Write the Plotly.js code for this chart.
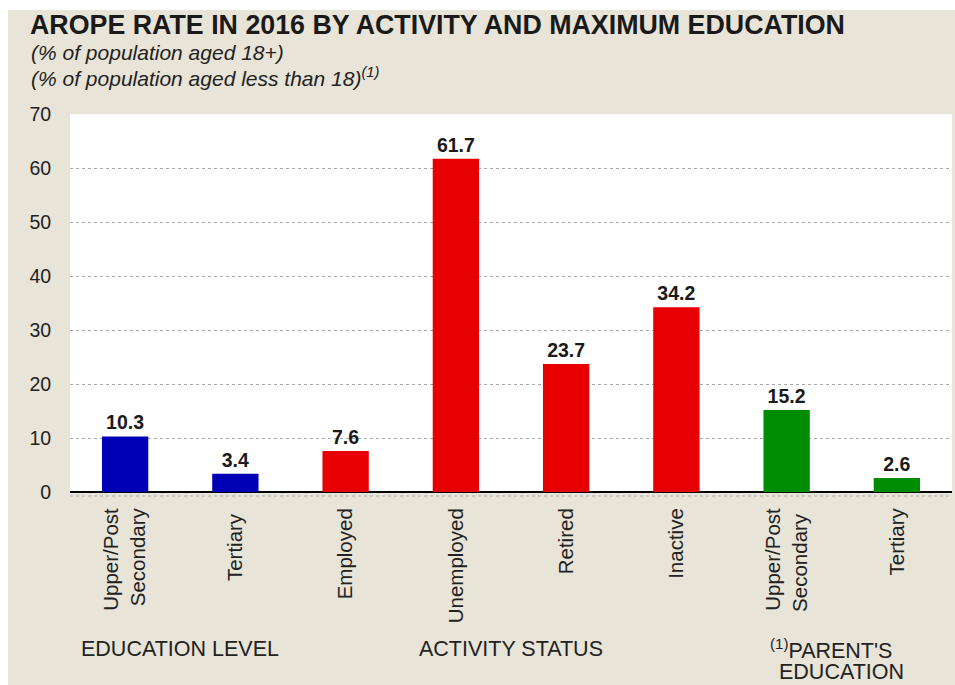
<!DOCTYPE html>
<html><head><meta charset="utf-8">
<script src="https://cdn.plot.ly/plotly-3.0.1.min.js"></script>
<style>
html,body{margin:0;padding:0;background:#ffffff;}
#chart{position:absolute;left:8px;top:10px;width:947px;height:675px;}
</style></head>
<body><div id="chart"></div>
<script>
const categories = ["Upper/Post<br>Secondary", "Tertiary ", "Employed", "Unemployed", "Retired", "Inactive", "Upper/Post<br>Secondary ", "Tertiary"];
const values = [10.3, 3.4, 7.6, 61.7, 23.7, 34.2, 15.2, 2.6];
const groupLabels = ["EDUCATION LEVEL", "ACTIVITY STATUS", "<sup>(1)</sup>PARENT'S", "EDUCATION"];
const groupPositions = [0.5, 3.5, 6.4, 6.5];
const groupRows = [0, 0, 0, 1];
const barColors = ["#0000b4", "#0000b4", "#e60000", "#e60000", "#e60000", "#e60000", "#008c00", "#008c00"];

const font = "Liberation Sans, Arial, sans-serif";
const trace = {
  type: "bar",
  x: categories,
  y: values,
  marker: {color: barColors, line: {width: 0}},
  text: values.map(v => "<b>" + v.toFixed(1) + "</b>"),
  textposition: "outside",
  textfont: {family: font, size: 19.5, color: "#1a1a1a"},
  cliponaxis: false,
  hoverinfo: "none"
};

const annotations = [
  {xref: "paper", yref: "paper", x: -41/882, y: 1 + (104-42)/378, xanchor: "left", yanchor: "middle",
   text: "<i>(% of population aged 18+)</i>", showarrow: false, font: {family: font, size: 21, color: "#222"}},
  {xref: "paper", yref: "paper", x: -41/882, y: 1 + (104-67)/378, xanchor: "left", yanchor: "middle",
   text: "<i>(% of population aged less than 18)<sup>(1)</sup></i>", showarrow: false, font: {family: font, size: 21, color: "#222"}}
];
groupLabels.forEach((g, i) => {
  const cy = 639 + groupRows[i] * 23;
  annotations.push({xref: "x", yref: "paper", x: groupPositions[i], y: (482-cy)/378, xanchor: "center", yanchor: "middle",
    text: g, showarrow: false, align: "center", font: {family: font, size: 21.5, color: "#222"}});
});

const layout = {
  width: 947, height: 675,
  margin: {l: 62, r: 3, t: 104, b: 193},
  paper_bgcolor: "#e8e4d8",
  plot_bgcolor: "#ffffff",
  showlegend: false,
  bargap: 0.58,
  title: {text: "<b>AROPE RATE IN 2016 BY ACTIVITY AND MAXIMUM EDUCATION</b>", xref: "container", yref: "container",
    x: 22/947, xanchor: "left", y: 1 - 15/675, yanchor: "middle",
    font: {family: font, size: 26.8, color: "#1a1a1a"}},
  xaxis: {type: "category", tickangle: -90, tickfont: {family: font, size: 20.5, color: "#222"},
    showgrid: false, showline: false, ticks: "outside", ticklen: 7, tickcolor: "rgba(0,0,0,0)", automargin: false},
  yaxis: {range: [0, 70], dtick: 10, tickfont: {family: font, size: 19.5, color: "#222"},
    showgrid: true, gridcolor: "#a8a8a8", griddash: "dot", gridwidth: 1,
    zeroline: true, zerolinecolor: "#000000", zerolinewidth: 2,
    ticks: "outside", ticklen: 14, tickcolor: "rgba(0,0,0,0)", showline: false, automargin: false},
  shapes: [
    {type: "line", xref: "paper", yref: "paper", x0: 0, x1: 1, y0: -4/378, y1: -4/378,
     line: {color: "#a8a8a8", width: 1, dash: "dot"}, layer: "above"}
  ],
  annotations: annotations
};

Plotly.newPlot("chart", [trace], layout, {displayModeBar: false, staticPlot: true});
</script></body></html>
